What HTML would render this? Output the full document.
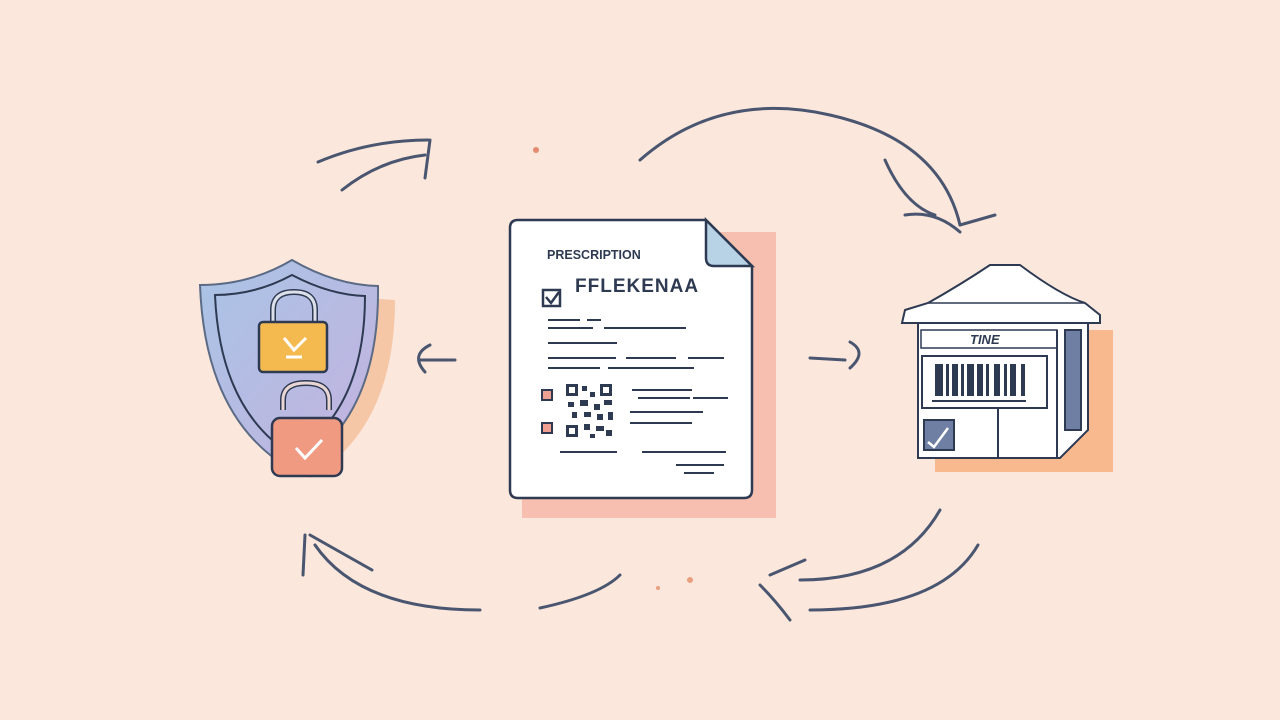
<!DOCTYPE html>
<html><head><meta charset="utf-8"><style>
html,body{margin:0;padding:0;background:#fce7dd;}
svg{display:block}
text{font-family:"Liberation Sans",sans-serif;}
</style></head><body>
<svg width="1280" height="720" viewBox="0 0 1280 720" xmlns="http://www.w3.org/2000/svg">
<defs>
<linearGradient id="sh" x1="0" y1="0" x2="1" y2="1"><stop offset="0" stop-color="#a9c4e6"/><stop offset="1" stop-color="#c4b2df"/></linearGradient>
</defs>
<rect width="1280" height="720" fill="#fce7dd"/>
<!-- arrows -->
<g fill="none" stroke="#4a5670" stroke-width="3" stroke-linecap="round">
<path d="M318 162 Q370 140 428 140"/><path d="M430 140 L425 178"/><path d="M342 190 Q380 160 425 155"/>
<path d="M640 160 Q720 90 830 115 Q940 140 960 225"/><path d="M885 160 Q905 205 935 215"/><path d="M960 225 L995 215"/>
<path d="M905 215 Q935 210 960 232"/>
<path d="M305 535 L303 575"/><path d="M310 535 L372 570"/><path d="M315 545 Q360 610 480 610"/>
<path d="M540 608 Q600 595 620 575"/>
<path d="M940 510 Q900 580 800 580"/><path d="M770 575 L805 560"/><path d="M978 545 Q940 610 810 610"/><path d="M760 585 Q775 600 790 620"/>
<path d="M430 345 Q410 355 425 372"/><path d="M420 360 L455 360"/>
<path d="M810 358 L845 360"/><path d="M850 342 Q868 352 850 368"/>
</g>
<circle cx="536" cy="150" r="3" fill="#e48a70"/><circle cx="690" cy="580" r="3" fill="#e9a07f"/><circle cx="658" cy="588" r="2" fill="#e9a07f"/>
<!-- shield -->
<path d="M212 290 Q260 290 298 265 Q335 290 385 292 Q385 420 300 470 Q215 420 212 290Z" fill="#f6c7a6" transform="translate(10,8)"/>
<path d="M200 285 Q250 285 292 260 Q335 285 378 286 Q380 420 292 470 Q205 420 200 285Z" fill="url(#sh)" stroke="#5b6b85" stroke-width="2"/>
<path d="M215 295 Q255 295 292 275 Q330 295 365 296 Q365 410 292 455 Q220 410 215 295Z" fill="none" stroke="#2e3a52" stroke-width="2"/>
<!-- locks -->
<path d="M273 325 V310 Q273 292 294 292 Q315 292 315 310 V325" fill="none" stroke="#2e3a52" stroke-width="6"/>
<path d="M273 325 V310 Q273 292 294 292 Q315 292 315 310 V325" fill="none" stroke="#dce0ea" stroke-width="3"/>
<rect x="259" y="322" width="68" height="50" rx="4" fill="#f4b94f" stroke="#2e3a52" stroke-width="2.5"/>
<path d="M284 338 L294 350 L306 338 M286 357 H302" fill="none" stroke="#fff" stroke-width="3"/>
<path d="M283 410 V400 Q283 383 306 383 Q329 383 329 400 V410" fill="none" stroke="#2e3a52" stroke-width="6"/>
<path d="M283 410 V400 Q283 383 306 383 Q329 383 329 400 V410" fill="none" stroke="#e9d6d4" stroke-width="3"/>
<rect x="272" y="418" width="70" height="58" rx="8" fill="#f09a82" stroke="#2e3a52" stroke-width="2.5"/>
<path d="M296 448 L305 458 L322 440" fill="none" stroke="#fff" stroke-width="3"/>
<!-- document -->
<rect x="522" y="232" width="254" height="286" fill="#f6b7a8" opacity="0.85"/>
<path d="M518 220 H706 L752 266 V490 Q752 498 744 498 H518 Q510 498 510 490 V228 Q510 220 518 220Z" fill="#fff" stroke="#2e3a52" stroke-width="2.5"/>
<path d="M706 220 V258 Q706 266 714 266 H752Z" fill="#b8d2e6" stroke="#2e3a52" stroke-width="2.5"/>
<text x="547" y="259" font-size="12.5" font-weight="bold" fill="#2e3a52">PRESCRIPTION</text>
<text x="575" y="292" font-size="19" font-weight="bold" fill="#2e3a52" letter-spacing="1">FFLEKENAA</text>
<rect x="543" y="290" width="17" height="16" fill="none" stroke="#2e3a52" stroke-width="2.5"/>
<path d="M546 297 L551 303 L559 292" fill="none" stroke="#2e3a52" stroke-width="2.5"/>
<g stroke="#2e3a52" stroke-width="2">
<path d="M548 320 H580 M587 320 H601 M548 328 H593 M604 328 H686 M548 343 H617 M548 358 H616 M626 358 H676 M688 358 H724 M548 368 H600 M608 368 H694 M632 390 H692 M638 398 H690 M693 398 H728 M630 412 H703 M630 423 H692 M560 452 H617 M642 452 H726 M676 465 H724 M684 473 H714"/>
</g>
<rect x="542" y="390" width="10" height="10" fill="#f0a090" stroke="#2e3a52" stroke-width="2"/>
<rect x="542" y="423" width="10" height="10" fill="#f0a090" stroke="#2e3a52" stroke-width="2"/>
<g fill="#2e3a52">
<rect x="566" y="384" width="12" height="12"/><rect x="600" y="384" width="12" height="12"/><rect x="566" y="425" width="12" height="12"/>
<rect x="582" y="386" width="5" height="5"/><rect x="590" y="392" width="5" height="5"/><rect x="568" y="402" width="6" height="5"/><rect x="580" y="400" width="8" height="6"/><rect x="594" y="404" width="6" height="6"/><rect x="604" y="400" width="8" height="5"/><rect x="572" y="412" width="5" height="6"/><rect x="584" y="412" width="7" height="5"/><rect x="597" y="414" width="6" height="6"/><rect x="608" y="412" width="5" height="8"/><rect x="584" y="424" width="6" height="6"/><rect x="596" y="426" width="8" height="5"/><rect x="606" y="430" width="6" height="6"/><rect x="590" y="434" width="5" height="4"/>
</g>
<rect x="569" y="387" width="6" height="6" fill="#fff"/><rect x="603" y="387" width="6" height="6" fill="#fff"/><rect x="569" y="428" width="6" height="6" fill="#fff"/>
<!-- kiosk -->
<rect x="935" y="330" width="178" height="142" fill="#f7b98d"/>
<path d="M918 312 V458 H1060 L1088 430 V312Z" fill="#fff" stroke="#2e3a52" stroke-width="2"/>
<path d="M905 310 L928 303 Q960 285 990 265 H1020 Q1060 295 1085 303 L1100 315 V323 H902Z" fill="#fff" stroke="#2e3a52" stroke-width="2"/>
<path d="M928 303 H1085" stroke="#2e3a52" stroke-width="1.5"/>
<rect x="921" y="330" width="136" height="18" fill="#fff" stroke="#2e3a52" stroke-width="1.5"/>
<text x="970" y="344" font-size="13" font-weight="bold" font-style="italic" fill="#2e3a52">TINE</text>
<rect x="922" y="356" width="125" height="52" fill="#fff" stroke="#2e3a52" stroke-width="2"/>
<g fill="#2e3a52"><rect x="935" y="364" width="8" height="32"/><rect x="946" y="364" width="3" height="32"/><rect x="952" y="364" width="6" height="32"/><rect x="961" y="364" width="3" height="32"/><rect x="967" y="364" width="7" height="32"/><rect x="977" y="364" width="6" height="32"/><rect x="986" y="364" width="3" height="32"/><rect x="994" y="364" width="6" height="32"/><rect x="1004" y="364" width="3" height="32"/><rect x="1010" y="364" width="6" height="32"/><rect x="1021" y="364" width="4" height="32"/></g>
<path d="M932 401 H1026 M998 408 V458 M1057 330 V458" stroke="#2e3a52" stroke-width="2"/>
<rect x="1065" y="330" width="16" height="100" fill="#6e7fa3" stroke="#2e3a52" stroke-width="2"/>
<rect x="924" y="420" width="30" height="30" fill="#6e7fa3" stroke="#2e3a52" stroke-width="2"/>
<path d="M928 442 L934 447 L948 428" fill="none" stroke="#fff" stroke-width="2.5"/>
</svg>
</body></html>
